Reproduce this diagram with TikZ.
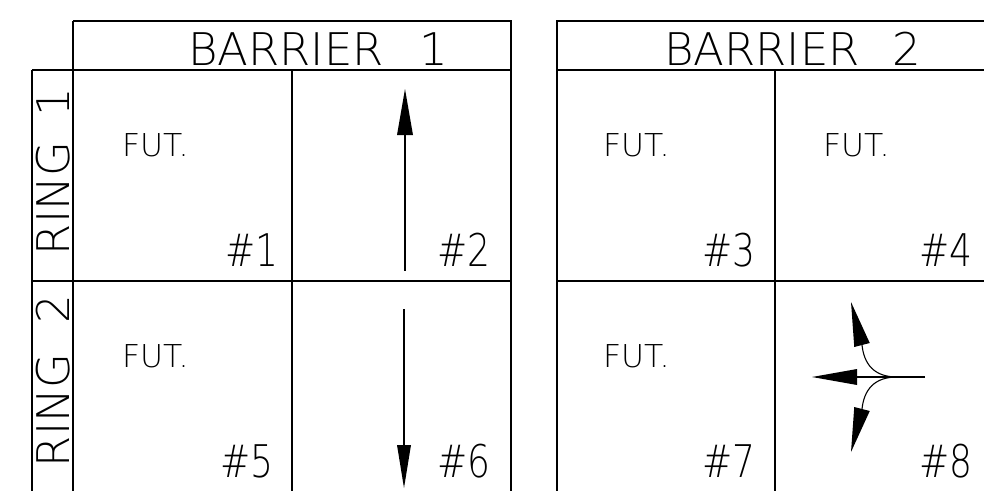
\documentclass[tikz,border=0pt]{standalone}
\usepackage{fontspec}
\IfFontExistsTF{DejaVu Sans ExtraLight}
 {\newfontfamily\lightfont{DejaVu Sans ExtraLight}\newcommand\bigsz{45}\newcommand\smallsz{31.5}\newcommand\wscale{1}}
 {\newcommand\lightfont{\sffamily}\newcommand\bigsz{48}\newcommand\smallsz{33}\newcommand\wscale{1.15}}
\begin{document}
\begin{tikzpicture}[x=1pt,y=-1pt,
  grid/.style={line width=1.7pt},
  shaft/.style={line width=1.1pt},
  head/.style={fill=black},
  txt/.style={inner sep=0pt, outer sep=0pt, anchor=base west},
  big/.style={font=\lightfont\fontsize{\bigsz}{\bigsz}\selectfont, xscale=\wscale},
  num/.style={font=\lightfont\fontsize{\bigsz}{\bigsz}\selectfont, xscale=0.8},
  small/.style={font=\lightfont\fontsize{\smallsz}{\smallsz}\selectfont}]
\useasboundingbox (0,0) rectangle (984,490);
\begin{scope}
\clip (0,0) rectangle (984,490);
% barrier 1 table
\draw[grid] (73,21) -- (511,21) -- (511,500);
\draw[grid] (73,21) -- (73,500);
\draw[grid] (32,70) -- (511,70);
\draw[grid] (32,70) -- (32,500);
\draw[grid] (292,70) -- (292,500);
\draw[grid] (32,281) -- (511,281);
% barrier 2 table
\draw[grid] (557,500) -- (557,21) -- (1000,21);
\draw[grid] (557,70) -- (1000,70);
\draw[grid] (775,70) -- (775,500);
\draw[grid] (993,21) -- (993,500);
\draw[grid] (557,281) -- (1000,281);
% headers
\node[txt,big] (b1) at (188,65) {BARRIER\hspace{36pt}1};
\node[txt,big] (b2) at (664,65) {BARRIER\hspace{33pt}2};
\node[txt,big,rotate=90] (r1) at (69,255) {RING\hspace{25pt}1};
\node[txt,big,rotate=90] (r2) at (69,467) {RING\hspace{30pt}2};
% FUT labels
\node[txt,small] (f1) at (122,156) {FUT.};
\node[txt,small] (f3) at (603,156) {FUT.};
\node[txt,small] (f4) at (823,156) {FUT.};
\node[txt,small] (f5) at (122,367) {FUT.};
\node[txt,small] (f7) at (603,367) {FUT.};
% numbers
\node[txt,num] (n1) at (225,266) {\#1};
\node[txt,num] (n2) at (437,266) {\#2};
\node[txt,num] (n3) at (702,266) {\#3};
\node[txt,num] (n4) at (919,266) {\#4};
\node[txt,num] (n5) at (220,477) {\#5};
\node[txt,num] (n6) at (437,477) {\#6};
\node[txt,num] (n7) at (702,477) {\#7};
\node[txt,num] (n8) at (919,477) {\#8};
% arrow phase 2
\draw[shaft] (405,135) -- (405,271);
\fill[head] (405,89) -- (413,135) -- (397,135) -- cycle;
% arrow phase 6
\draw[shaft] (404,309) -- (404,445);
\fill[head] (397,445) -- (411,445) -- (404,488) -- cycle;
% arrows phase 8
\draw[shaft] (925,377) -- (857,377);
\fill[head] (812,377) -- (857,369) -- (857,385) -- cycle;
\draw[shaft] (897,377) .. controls (874,377) and (864,364) .. (862,345);
\fill[head] (851,302) -- (854.25,347) -- (869.75,343) -- cycle;
\draw[shaft] (897,377) .. controls (874,377) and (864,390) .. (862,409);
\fill[head] (851,452) -- (854.25,407) -- (869.75,411) -- cycle;
\end{scope}
\end{tikzpicture}
\end{document}
